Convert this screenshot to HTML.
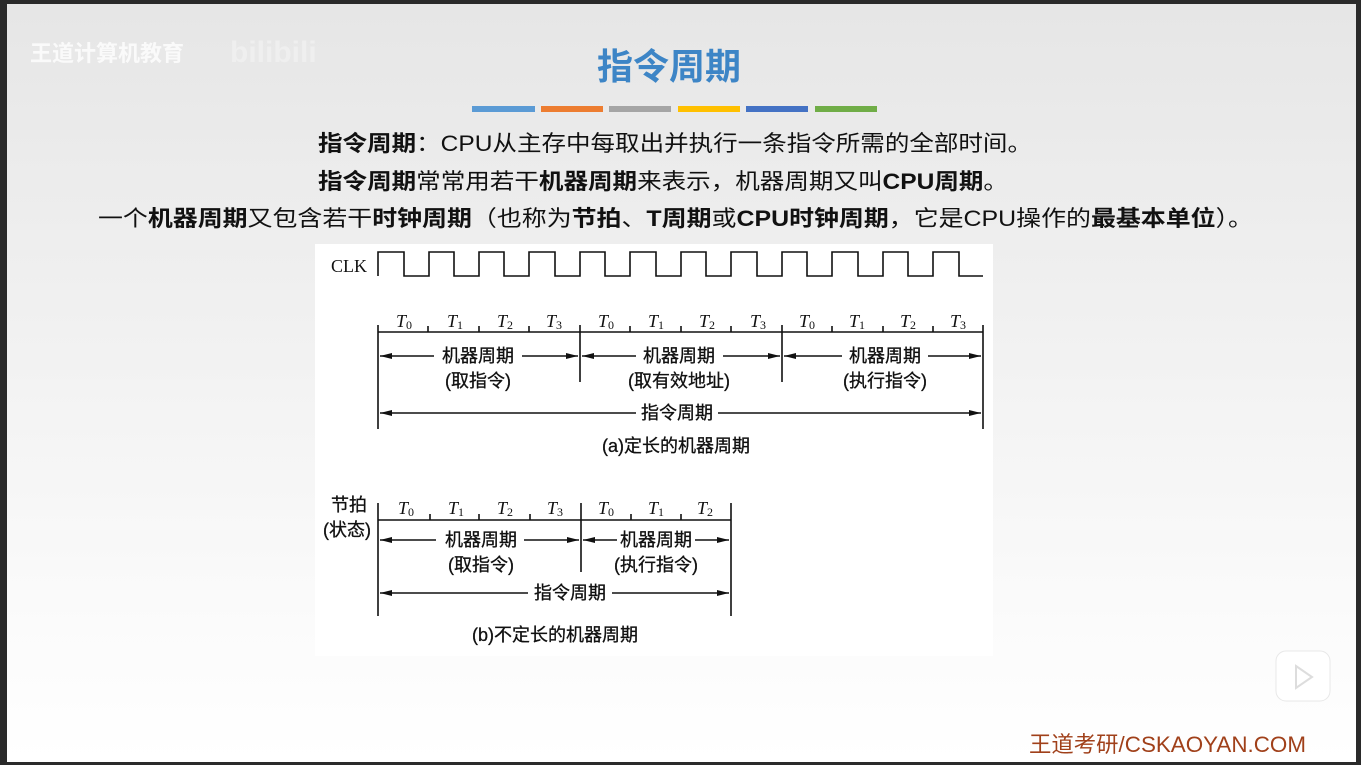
<!DOCTYPE html>
<html><head><meta charset="utf-8">
<style>
html,body{margin:0;padding:0;}
body{width:1361px;height:765px;overflow:hidden;background:#333;}
svg{display:block;font-family:"Liberation Sans","Noto Sans CJK SC",sans-serif;}
.s{font-family:"Liberation Serif","Noto Serif CJK SC",serif;}
</style></head><body>
<svg width="1361" height="765" viewBox="0 0 1361 765" xmlns="http://www.w3.org/2000/svg">
<defs>
<linearGradient id="bg" x1="0" y1="0" x2="0" y2="1">
<stop offset="0" stop-color="#e6e6e6"/><stop offset="0.82" stop-color="#fbfbfb"/><stop offset="1" stop-color="#ffffff"/>
</linearGradient>
<marker id="a" viewBox="0 0 12 6" refX="12" refY="3" markerWidth="12" markerHeight="6" orient="auto-start-reverse" markerUnits="userSpaceOnUse"><path d="M0,0 L12,3 L0,6 z" fill="#111"/></marker>
</defs>
<rect x="0" y="0" width="1361" height="765" fill="#2a2a2a"/>
<rect x="7" y="4" width="1349" height="758" fill="url(#bg)"/>
<text x="30" y="61" font-size="22" fill="#fafafa" font-weight="bold">王道计算机教育</text>
<text x="230" y="62" font-size="30" fill="#efefef" font-weight="bold">bilibili</text>
<text x="669" y="79" font-size="36" font-weight="bold" fill="#3d85c6" text-anchor="middle">指令周期</text>
<rect x="472" y="106" width="63" height="6" fill="#5b9bd5"/>
<rect x="541" y="106" width="62" height="6" fill="#ed7d31"/>
<rect x="609" y="106" width="62" height="6" fill="#a5a5a5"/>
<rect x="678" y="106" width="62" height="6" fill="#ffc000"/>
<rect x="746" y="106" width="62" height="6" fill="#4472c4"/>
<rect x="815" y="106" width="62" height="6" fill="#70ad47"/>
<g font-size="22" fill="#111">
<text x="318" y="151" textLength="714" lengthAdjust="spacingAndGlyphs"><tspan font-weight="bold">指令周期</tspan>：CPU从主存中每取出并执行一条指令所需的全部时间。</text>
<text x="318" y="189" textLength="690" lengthAdjust="spacingAndGlyphs"><tspan font-weight="bold">指令周期</tspan>常常用若干<tspan font-weight="bold">机器周期</tspan>来表示，机器周期又叫<tspan font-weight="bold">CPU周期</tspan>。</text>
<text x="98" y="226" textLength="1155" lengthAdjust="spacingAndGlyphs">一个<tspan font-weight="bold">机器周期</tspan>又包含若干<tspan font-weight="bold">时钟周期</tspan>（也称为<tspan font-weight="bold">节拍</tspan>、<tspan font-weight="bold">T周期</tspan>或<tspan font-weight="bold">CPU时钟周期</tspan>，它是CPU操作的<tspan font-weight="bold">最基本单位</tspan>）。</text>
</g>
<rect x="315" y="244" width="678" height="412" fill="#ffffff"/>
<g stroke="#111" stroke-width="1.6" fill="none">
<path d="M378,276 L378,252 L404,252 L404,276 L429,276 L429,252 L454,252 L454,276 L479,276 L479,252 L504,252 L504,276 L529,276 L529,252 L555,252 L555,276 L580,276 L580,252 L605,252 L605,276 L630,276 L630,252 L656,252 L656,276 L681,276 L681,252 L706,252 L706,276 L731,276 L731,252 L757,252 L757,276 L782,276 L782,252 L807,252 L807,276 L832,276 L832,252 L858,252 L858,276 L883,276 L883,252 L908,252 L908,276 L933,276 L933,252 L959,252 L959,276 L983,276"/>
<path d="M378,332 L983,332"/>
<path d="M378,325 L378,429 M983,325 L983,429 M580,325 L580,382 M782,325 L782,382"/>
<path d="M428,326 L428,332 M479,326 L479,332 M529,326 L529,332 M630,326 L630,332 M681,326 L681,332 M731,326 L731,332 M832,326 L832,332 M883,326 L883,332 M933,326 L933,332"/>
<path d="M380,356 L434,356" marker-start="url(#a)"/><path d="M522,356 L578,356" marker-end="url(#a)"/>
<path d="M582,356 L636,356" marker-start="url(#a)"/><path d="M723,356 L780,356" marker-end="url(#a)"/>
<path d="M784,356 L842,356" marker-start="url(#a)"/><path d="M928,356 L981,356" marker-end="url(#a)"/>
<path d="M380,413 L636,413" marker-start="url(#a)"/><path d="M718,413 L981,413" marker-end="url(#a)"/>
<path d="M378,520 L731,520"/>
<path d="M378,503 L378,616 M731,503 L731,616 M581,503 L581,572"/>
<path d="M430,514 L430,520 M479,514 L479,520 M530,514 L530,520 M631,514 L631,520 M681,514 L681,520"/>
<path d="M380,540 L436,540" marker-start="url(#a)"/><path d="M524,540 L579,540" marker-end="url(#a)"/>
<path d="M583,540 L617,540" marker-start="url(#a)"/><path d="M695,540 L729,540" marker-end="url(#a)"/>
<path d="M380,593 L528,593" marker-start="url(#a)"/><path d="M612,593 L729,593" marker-end="url(#a)"/>
</g>
<g fill="#111" font-size="18" class="s">
<text x="331" y="272">CLK</text>
<g font-style="italic" font-size="18">
<text x="396" y="327">T<tspan font-size="12" dy="2" font-style="normal">0</tspan></text>
<text x="447" y="327">T<tspan font-size="12" dy="2" font-style="normal">1</tspan></text>
<text x="497" y="327">T<tspan font-size="12" dy="2" font-style="normal">2</tspan></text>
<text x="546" y="327">T<tspan font-size="12" dy="2" font-style="normal">3</tspan></text>
<text x="598" y="327">T<tspan font-size="12" dy="2" font-style="normal">0</tspan></text>
<text x="648" y="327">T<tspan font-size="12" dy="2" font-style="normal">1</tspan></text>
<text x="699" y="327">T<tspan font-size="12" dy="2" font-style="normal">2</tspan></text>
<text x="750" y="327">T<tspan font-size="12" dy="2" font-style="normal">3</tspan></text>
<text x="799" y="327">T<tspan font-size="12" dy="2" font-style="normal">0</tspan></text>
<text x="849" y="327">T<tspan font-size="12" dy="2" font-style="normal">1</tspan></text>
<text x="900" y="327">T<tspan font-size="12" dy="2" font-style="normal">2</tspan></text>
<text x="950" y="327">T<tspan font-size="12" dy="2" font-style="normal">3</tspan></text>
<text x="398" y="514">T<tspan font-size="12" dy="2" font-style="normal">0</tspan></text>
<text x="448" y="514">T<tspan font-size="12" dy="2" font-style="normal">1</tspan></text>
<text x="497" y="514">T<tspan font-size="12" dy="2" font-style="normal">2</tspan></text>
<text x="547" y="514">T<tspan font-size="12" dy="2" font-style="normal">3</tspan></text>
<text x="598" y="514">T<tspan font-size="12" dy="2" font-style="normal">0</tspan></text>
<text x="648" y="514">T<tspan font-size="12" dy="2" font-style="normal">1</tspan></text>
<text x="697" y="514">T<tspan font-size="12" dy="2" font-style="normal">2</tspan></text>
</g>
</g>
<g fill="#111" font-size="18" text-anchor="middle" font-family="Liberation Sans, Noto Sans CJK SC, sans-serif" stroke="#111" stroke-width="0.3">
<text x="478" y="362">机器周期</text><text x="478" y="387">(取指令)</text>
<text x="679" y="362">机器周期</text><text x="679" y="387">(取有效地址)</text>
<text x="885" y="362">机器周期</text><text x="885" y="387">(执行指令)</text>
<text x="677" y="419">指令周期</text>
<text x="676" y="452">(a)定长的机器周期</text>
<text x="481" y="546">机器周期</text><text x="481" y="571">(取指令)</text>
<text x="656" y="546">机器周期</text><text x="656" y="571">(执行指令)</text>
<text x="570" y="599">指令周期</text>
<text x="555" y="641">(b)不定长的机器周期</text>
<text x="349" y="511">节拍</text><text x="347" y="536">(状态)</text>
</g>
<rect x="1276" y="651" width="54" height="50" rx="10" fill="#fff" stroke="#e8e8e8"/>
<path d="M1296,666 L1312,677 L1296,688 z" fill="none" stroke="#ddd" stroke-width="2"/>
<text x="1029" y="752" font-size="22" fill="#a0401a" textLength="277" lengthAdjust="spacingAndGlyphs">王道考研/CSKAOYAN.COM</text>
</svg>
</body></html>
